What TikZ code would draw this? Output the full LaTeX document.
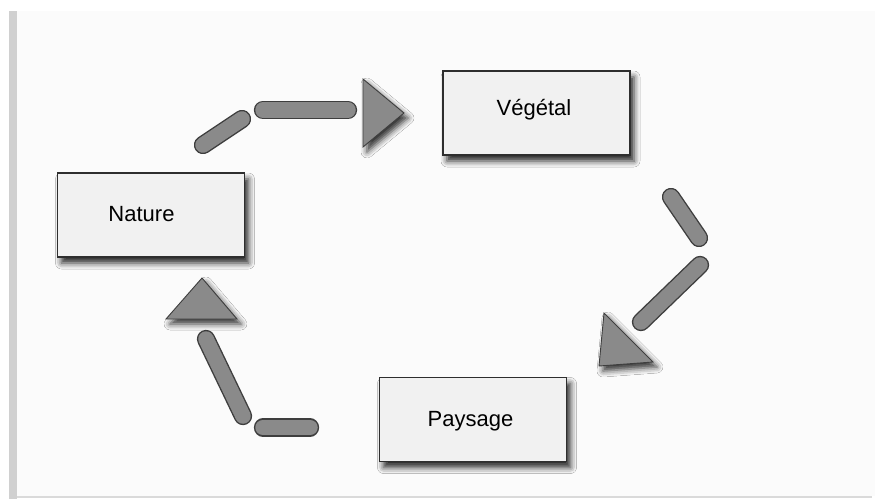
\documentclass[tikz,border=0pt]{standalone}
\usepackage{fontspec}
\setmainfont{Liberation Sans}
\usetikzlibrary{shadows.blur}
\definecolor{panel}{HTML}{FBFBFB}
\definecolor{barc}{HTML}{D0D0D0}
\definecolor{boxfill}{HTML}{F1F1F1}
\definecolor{boxline}{HTML}{2E2E2E}
\definecolor{pillfill}{HTML}{8A8A8A}
\definecolor{pillline}{HTML}{3E3E3E}
\tikzset{
  stagebox/.style={draw=boxline, line width=1.1pt, fill=boxfill, rectangle,
    minimum width=187pt, minimum height=84pt, inner sep=0pt,
    blur shadow={shadow xshift=4pt, shadow yshift=-6pt, shadow blur radius=6pt, shadow opacity=85}},
  lbl/.style={font=\fontsize{22}{26}\selectfont, text=black, inner sep=0pt, anchor=base},
  pill/.style={line cap=round, line width=1.4pt, draw=pillline, double=pillfill, double distance=15.5pt},
  headtri/.style={fill=pillfill, draw=pillline, line width=0.9pt, line join=miter,
    blur shadow={shadow xshift=4pt, shadow yshift=-5pt, shadow blur radius=6pt, shadow opacity=80}}
}
\begin{document}
\begin{tikzpicture}[x=1pt,y=-1pt]
\useasboundingbox (0,0) rectangle (875,499);
% background panel
\fill[white] (0,0) rectangle (875,499);
\fill[panel] (17,11) rectangle (875,496);
\fill[barc] (9,11) rectangle (17,499);
\fill[barc!80] (17,496) rectangle (872,498);
% boxes
\node[stagebox] (nat) at (151,215) {};
\node[stagebox] (veg) at (536.5,113) {};
\node[stagebox] (pay) at (473,419.5) {};
\node[lbl] (natl) at (141.5,221) {Nature};
\node[lbl] (vegl) at (534,115) {Végétal};
\node[lbl] (payl) at (470.5,426) {Paysage};
% top arrow: Nature -> Végétal
\coordinate (a1) at (203,145);
\coordinate (a2) at (242,119);
\coordinate (a3) at (263,110);
\coordinate (a4) at (348,110);
\draw[pill] (a1) -- (a2);
\draw[pill] (a3) -- (a4);
\draw[headtri] (363,79) -- (404,113) -- (363,147) -- cycle;
% right arrow: Végétal -> Paysage
\coordinate (b1) at (671,197);
\coordinate (b2) at (699,238);
\coordinate (b3) at (700,265);
\coordinate (b4) at (641,322);
\draw[pill] (b1) -- (b2);
\draw[pill] (b3) -- (b4);
\draw[headtri] (604,313) -- (653,362) -- (599,366) -- cycle;
% left arrow: Paysage -> Nature
\coordinate (c1) at (310,427.5);
\coordinate (c2) at (263,427.5);
\coordinate (c3) at (243,416);
\coordinate (c4) at (206,339);
\draw[pill] (c1) -- (c2);
\draw[pill] (c3) -- (c4);
\draw[headtri] (166,319) -- (202,278) -- (237,319) -- cycle;
\end{tikzpicture}
\end{document}
